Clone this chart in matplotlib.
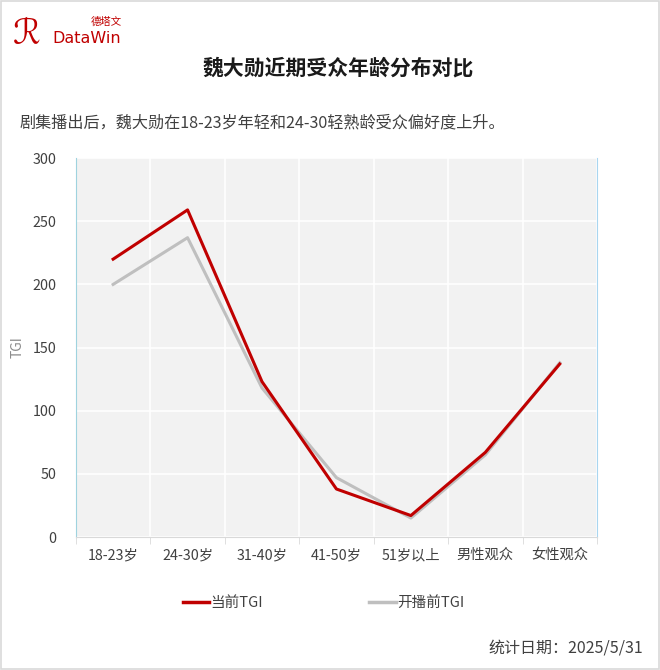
import matplotlib
matplotlib.use("Agg")
import matplotlib.pyplot as plt
from matplotlib.lines import Line2D
from matplotlib.patches import Rectangle

plt.rcParams['font.family'] = ['Noto Sans CJK SC', 'DejaVu Sans']

# 数据
categories = ["18-23岁", "24-30岁", "31-40岁", "41-50岁", "51岁以上", "男性观众", "女性观众"]
tgi_now = [220, 259, 123, 38, 17, 67, 137]
tgi_before = [200, 237, 118, 47, 15, 65, 138]
series_names = ["当前TGI", "开播前TGI"]
yticks = [0, 50, 100, 150, 200, 250, 300]

red = "#c00000"
gray = "#bfbfbf"

fig = plt.figure(figsize=(6.6, 6.7), dpi=100)
fig.patch.set_facecolor("white")
fig.add_artist(Rectangle((0.002, 0.002), 0.996, 0.996, transform=fig.transFigure,
                         fill=False, edgecolor="#d9d9d9", linewidth=1.2))

ax = fig.add_axes([0.115, 0.1985, 0.7895, 0.5655])
ax.set_facecolor("#f2f2f2")

x = list(range(len(categories)))
ax.plot(x, tgi_before, color=gray, linewidth=2.2, label=series_names[1], zorder=3)
ax.plot(x, tgi_now, color=red, linewidth=2.2, label=series_names[0], zorder=4)

ax.set_xlim(-0.5, len(categories) - 0.5)
ax.set_ylim(0, 300)
ax.set_yticks(yticks)
ax.set_xticks(x)
ax.set_xticklabels(categories)
ax.set_xticks([i - 0.5 for i in range(len(categories) + 1)], minor=True)

ax.grid(True, which="minor", axis="x", color="white", linewidth=1.2)
ax.grid(True, which="major", axis="y", color="white", linewidth=1.2)
ax.set_axisbelow(True)

ax.tick_params(axis="x", which="major", length=0, pad=8, labelsize=10.3, labelcolor="#404040")
ax.tick_params(axis="x", which="minor", length=5, color="#d9d9d9", direction="out")
ax.tick_params(axis="y", length=0, pad=14, labelsize=10.3, labelcolor="#404040")

ax.spines["top"].set_visible(False)
ax.spines["left"].set_color("#9fd3df")
ax.spines["left"].set_linewidth(0.8)
ax.spines["right"].set_color("#a9d6f0")
ax.spines["right"].set_linewidth(0.8)
ax.spines["bottom"].set_color("#d9d9d9")
fig.text(0.026, 0.482, "TGI", rotation=90, ha="center", va="center",
         color="#8c8c8c", fontsize=10)

# 图例
handles = [Line2D([0], [0], color=red, linewidth=2.5),
           Line2D([0], [0], color=gray, linewidth=2.5)]
fig.legend(handles, series_names, loc="center", bbox_to_anchor=(0.49, 0.1),
           ncol=2, frameon=False, fontsize=10.5, handlelength=1.8, handletextpad=0.1,
           columnspacing=7.3, labelcolor="#404040")

# 标题与文字
fig.text(0.512, 0.898, "魏大勋近期受众年龄分布对比", ha="center", va="center",
         fontsize=15, fontweight="bold", color="#1a1a1a")
fig.text(0.03, 0.816, "剧集播出后，魏大勋在18-23岁年轻和24-30轻熟龄受众偏好度上升。",
         ha="left", va="center", fontsize=11.6, color="#404040")
fig.text(0.974, 0.033, "统计日期：2025/5/31", ha="right", va="center",
         fontsize=11.5, color="#404040")

# 标志
fig.text(0.02, 0.95, "ℛ", ha="left", va="center", fontsize=25, color=red,
         family=["DejaVu Sans"])
fig.text(0.08, 0.942, "DataWin", ha="left", va="center", fontsize=11.5, color=red,
         family=["DejaVu Sans"])
fig.text(0.137, 0.968, "德塔文", ha="left", va="center", fontsize=7.5, color=red)

fig.savefig("out.png", dpi=100, facecolor="white")
